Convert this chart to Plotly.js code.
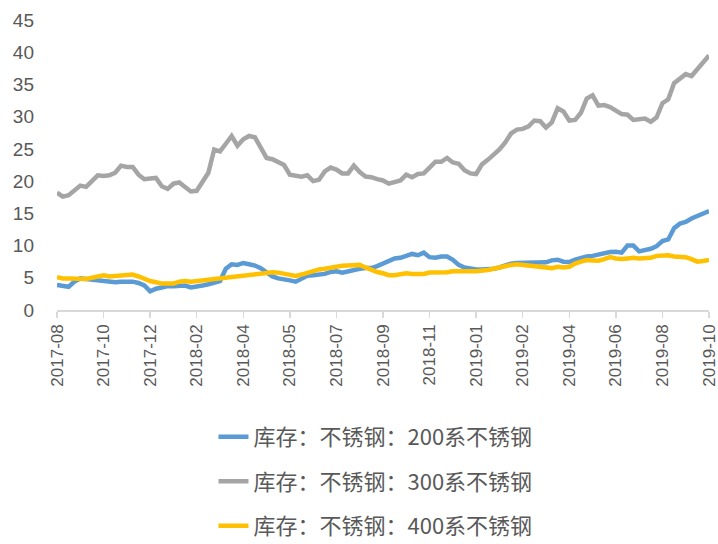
<!DOCTYPE html>
<html>
<head>
<meta charset="utf-8">
<script src="https://cdn.plot.ly/plotly-3.0.1.min.js"></script>
<style>html,body{margin:0;padding:0;background:#fff;}#chart{width:718px;height:544px;}</style>
</head>
<body>
<div id="chart"></div>
<script>
const categories = [
"2017-08-18","2017-08-25","2017-09-01","2017-09-08","2017-09-15","2017-09-22","2017-09-29","2017-10-06",
"2017-10-13","2017-10-20","2017-10-27","2017-11-03","2017-11-10","2017-11-17","2017-11-24","2017-12-01",
"2017-12-08","2017-12-15","2017-12-22","2017-12-29","2018-01-05","2018-01-12","2018-01-19","2018-01-26",
"2018-02-02","2018-02-09","2018-02-23","2018-03-02","2018-03-09","2018-03-16","2018-03-23","2018-03-30",
"2018-04-04","2018-04-11","2018-04-18","2018-04-25","2018-05-02","2018-05-09","2018-05-16","2018-05-23",
"2018-05-30","2018-06-06","2018-06-13","2018-06-20","2018-06-27","2018-07-04","2018-07-11","2018-07-18",
"2018-07-25","2018-08-01","2018-08-08","2018-08-15","2018-08-22","2018-08-29","2018-09-05","2018-09-12",
"2018-09-19","2018-09-26","2018-10-10","2018-10-17","2018-10-24","2018-10-31","2018-11-07","2018-11-14",
"2018-11-21","2018-11-28","2018-12-03","2018-12-07","2018-12-12","2018-12-17","2018-12-21","2018-12-28",
"2019-01-04","2019-01-11","2019-01-18","2019-01-25","2019-02-01","2019-02-08","2019-02-15","2019-02-22",
"2019-02-28","2019-03-08","2019-03-15","2019-03-22","2019-03-29","2019-04-04","2019-04-12","2019-04-19",
"2019-04-26","2019-05-03","2019-05-10","2019-05-17","2019-05-24","2019-05-31","2019-06-06","2019-06-14",
"2019-06-21","2019-06-28","2019-07-05","2019-07-12","2019-07-19","2019-07-26","2019-08-02","2019-08-09",
"2019-08-16","2019-08-23","2019-08-30","2019-09-06","2019-09-13","2019-09-20","2019-09-27","2019-10-04",
"2019-10-11"
];

const tickLabels = ["2017-08","2017-10","2017-12","2018-02","2018-04","2018-05","2018-07","2018-09",
"2018-11","2019-01","2019-02","2019-04","2019-06","2019-08","2019-10"];

const seriesNames = ["库存：不锈钢：200系不锈钢","库存：不锈钢：300系不锈钢","库存：不锈钢：400系不锈钢"];

const s200 = [
3.9,3.8,3.6,4.4,4.9,4.8,4.7,4.6,4.55,4.4,4.3,4.4,4.4,4.4,4.2,3.8,
2.9,3.3,3.5,3.7,3.7,3.8,3.8,3.5,3.6,3.8,4.0,4.2,4.5,6.4,7.1,7.0,
7.3,7.1,6.9,6.5,5.8,5.2,4.9,4.8,4.6,4.4,4.9,5.3,5.4,5.5,5.6,5.9,
6.0,5.8,6.0,6.3,6.4,6.5,6.5,6.8,7.2,7.7,8.0,8.1,8.4,8.7,8.5,8.9,
8.2,8.1,8.3,8.3,7.8,7.0,6.6,6.4,6.3,6.3,6.3,6.4,6.6,6.9,7.2,7.3,
7.35,7.4,7.4,7.5,7.4,7.7,7.8,7.5,7.45,7.8,8.1,8.3,8.4,8.6,8.9,9.0,
9.05,8.9,10.0,10.0,9.1,9.3,9.5,9.9,10.7,10.95,12.7,13.4,13.65,14.2,14.6,15.0,
15.35
];

const s300 = [
18.2,17.6,17.8,18.6,19.3,19.1,20.0,20.9,20.8,20.9,21.3,22.4,22.2,22.2,21.0,20.3,
20.4,20.5,19.2,18.8,19.6,19.8,19.1,18.4,18.5,19.8,21.3,24.9,24.6,25.8,27.0,25.5,
26.5,27.0,26.8,25.2,23.6,23.4,23.0,22.5,21.0,20.8,20.7,20.9,20.0,20.2,21.5,22.1,
21.8,21.2,21.2,22.4,21.4,20.7,20.6,20.3,20.1,19.6,19.8,20.1,21.0,20.6,21.1,21.2,
22.1,23.0,23.0,23.6,22.9,22.7,21.7,21.2,21.1,22.6,23.3,24.1,24.9,26.0,27.4,28.0,
28.1,28.5,29.4,29.3,28.3,29.1,31.3,30.8,29.4,29.5,30.6,32.8,33.3,31.7,31.8,31.5,
30.9,30.4,30.3,29.5,29.6,29.7,29.2,29.9,32.1,32.7,35.2,36.0,36.6,36.3,37.4,38.3,
39.5
];

const s400 = [
5.1,4.9,4.9,4.9,4.85,4.8,5.0,5.2,5.4,5.2,5.3,5.4,5.5,5.5,5.2,4.8,
4.5,4.3,4.1,4.1,4.1,4.4,4.5,4.4,4.5,4.65,4.7,4.8,4.9,5.0,5.2,5.3,
5.35,5.4,5.5,5.6,5.8,5.85,5.8,5.6,5.4,5.3,5.5,5.8,6.1,6.3,6.4,6.6,
6.8,6.85,6.9,6.95,7.0,6.6,6.2,5.9,5.7,5.4,5.4,5.5,5.7,5.6,5.55,5.6,
5.8,5.8,5.7,5.85,6.0,6.05,5.95,6.0,6.0,6.05,6.2,6.4,6.6,6.9,7.0,7.1,
7.0,6.8,6.7,6.6,6.5,6.5,6.7,6.6,6.7,7.2,7.5,7.75,7.7,7.65,7.9,8.2,
8.0,7.9,8.0,8.1,8.0,8.0,8.1,8.4,8.45,8.5,8.3,8.2,8.2,7.9,7.5,7.6,
7.75
];

const colors = ["#5B9BD5","#A5A5A5","#FFC000"];
const seriesValues = [s200, s300, s400];

const tickVals = categories.filter((c, i) => i % 8 === 0);

const traces = seriesValues.map((vals, k) => ({
  type: "scatter",
  mode: "lines",
  x: categories,
  y: vals,
  name: seriesNames[k],
  legendgroup: "g" + k,
  line: {color: colors[k], width: 4.5, shape: "linear"},
  hoverinfo: "x+y+name"
}));

const yTickFont = {family: "'Liberation Sans', Arial, sans-serif", size: 19, color: "#595959"};
const xTickFont = {family: "'Liberation Sans', Arial, sans-serif", size: 17, color: "#595959"};

const layout = {
  width: 718,
  height: 544,
  margin: {l: 57, r: 9, t: 20, b: 234, autoexpand: false},
  paper_bgcolor: "#ffffff",
  plot_bgcolor: "#ffffff",
  showlegend: true,
  legend: {
    x: 0.24, y: -0.365, xanchor: "left", yanchor: "top",
    orientation: "v",
    font: {family: "'Noto Sans CJK SC', sans-serif", size: 22, color: "#595959"},
    tracegroupgap: 13,
    bgcolor: "rgba(0,0,0,0)"
  },
  xaxis: {
    type: "category",
    range: [0, categories.length - 1],
    tickmode: "array",
    tickvals: tickVals,
    ticktext: tickLabels,
    tickangle: -90,
    tickfont: xTickFont,
    automargin: false,
    showline: true,
    linecolor: "#D9D9D9",
    linewidth: 1.5,
    ticks: "outside",
    ticklen: 6,
    tickcolor: "#D9D9D9",
    tickwidth: 1.5,
    showgrid: false,
    zeroline: false
  },
  yaxis: {
    range: [0, 45],
    tickmode: "linear",
    tick0: 0,
    dtick: 5,
    tickfont: yTickFont,
    automargin: false,
    showline: false,
    showgrid: false,
    zeroline: false,
    ticks: "",
    ticklabelstandoff: 22
  }
};

Plotly.newPlot("chart", traces, layout, {displayModeBar: false, staticPlot: true});
</script>
</body>
</html>
